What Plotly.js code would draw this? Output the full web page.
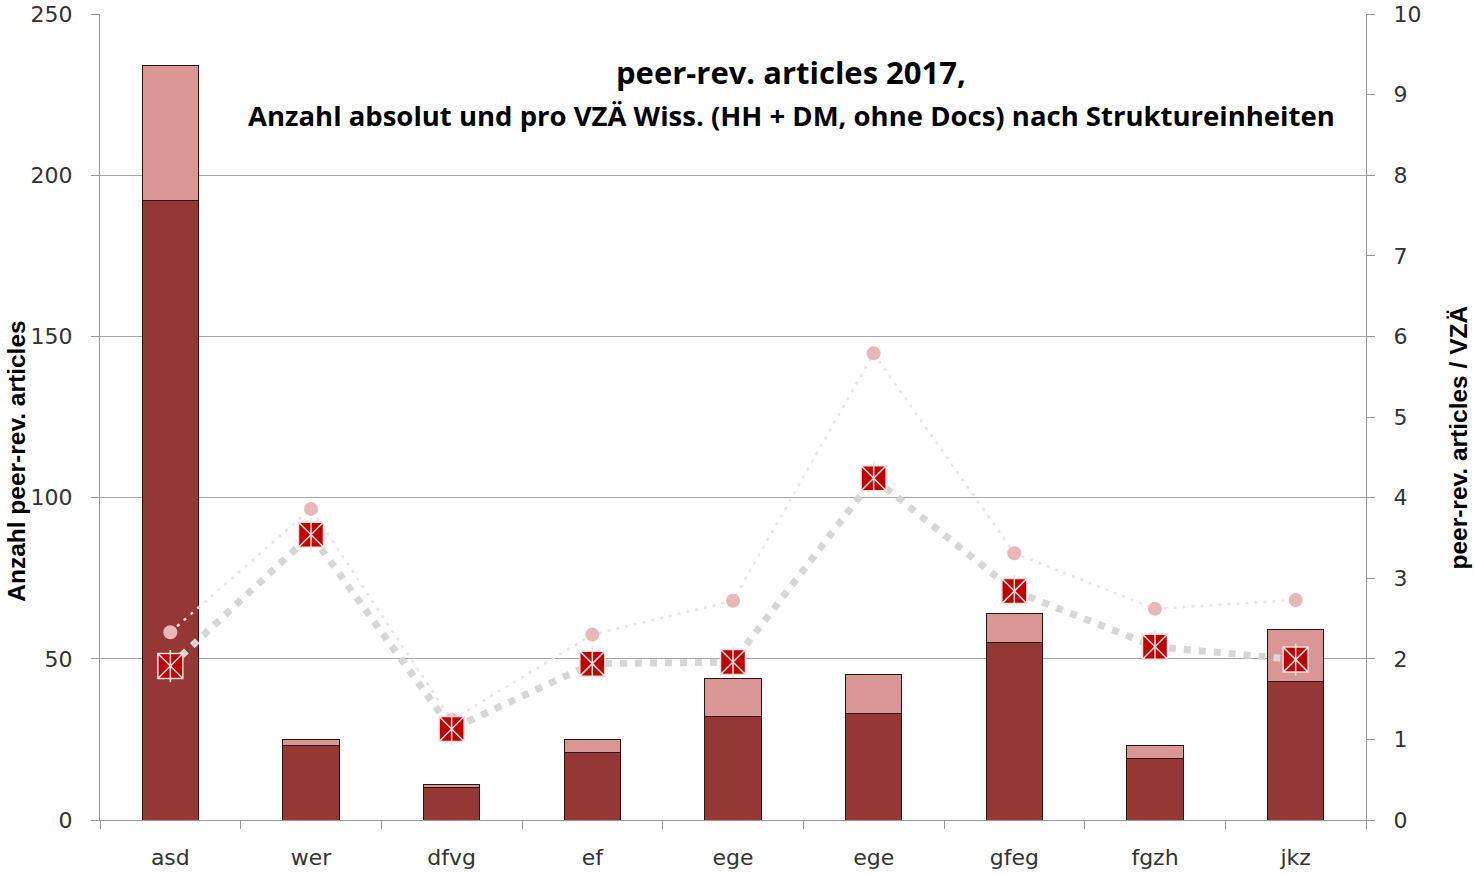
<!DOCTYPE html>
<html>
<head>
<meta charset="utf-8">
<script src="https://cdn.plot.ly/plotly-3.0.1.min.js"></script>
<style>html,body{margin:0;padding:0;background:#fff;}#chart{width:1474px;height:875px;}</style>
</head>
<body>
<div id="chart"></div>
<script>
// Data
const categories = ["asd", "wer", "dfvg", "ef", "ege", "ege", "gfeg", "fgzh", "jkz"];
const articlesBase = [192, 23, 10, 21, 32, 33, 55, 19, 43];      // dark segment
const articlesExtra = [42, 2, 1, 4, 12, 12, 9, 4, 16];          // light segment stacked on top
const perVZAe = [1.91, 3.54, 1.13, 1.94, 1.96, 4.24, 2.84, 2.15, 1.99];      // red squares
const perVZAeAlt = [2.33, 3.86, 1.24, 2.30, 2.72, 5.79, 3.31, 2.62, 2.73];   // pink circles
const titleLine1 = "peer-rev. articles 2017,";
const titleLine2 = "Anzahl absolut und pro VZÄ Wiss. (HH + DM, ohne Docs) nach Struktureinheiten";
const yTitle = "Anzahl peer-rev. articles";
const y2Title = "peer-rev. articles / VZÄ";

const idx = categories.map((_, i) => i);

const traces = [
  {type: "bar", x: idx, y: articlesBase, width: 0.4,
   marker: {color: "#953735", line: {color: "#2b1414", width: 1}}, hoverinfo: "y"},
  {type: "bar", x: idx, y: articlesExtra, width: 0.4,
   marker: {color: "#d99694", line: {color: "#2b1414", width: 1}}, hoverinfo: "y"},
  {type: "scatter", mode: "lines+markers", x: idx, y: perVZAeAlt, yaxis: "y2",
   line: {color: "#f0e0e0", width: 2.5, dash: "3px,6px"},
   marker: {color: "#e8b8b8", size: 14, symbol: "circle"}},
  {type: "scatter", mode: "lines", x: idx, y: perVZAe, yaxis: "y2",
   line: {color: "#d6d6d6", width: 7, dash: "7px,8px"}},
  {type: "scatter", mode: "markers", x: idx, y: perVZAe, yaxis: "y2",
   marker: {color: "#c00000", size: 25, symbol: "square-x", line: {color: "#f4dede", width: 1.5}}},
  {type: "scatter", mode: "markers", x: idx, y: perVZAe, yaxis: "y2",
   marker: {color: "#f4dede", size: 23, symbol: "line-ns-open", line: {color: "#f4dede", width: 1.5}}}
];

const tickFont = {family: "DejaVu Sans", size: 22, color: "#333"};

const layout = {
  width: 1474, height: 875,
  margin: {l: 100, r: 108, t: 14, b: 55},
  paper_bgcolor: "#fff", plot_bgcolor: "#fff",
  barmode: "stack",
  showlegend: false,
  xaxis: {
    range: [-0.5, 8.5], tickmode: "array", tickvals: idx, ticktext: categories,
    ticks: "", showgrid: false, zeroline: false,
    showline: true, linecolor: "#999", linewidth: 1,
    tickfont: tickFont, ticklabelstandoff: 18,
    minor: {tickmode: "linear", tick0: 0.5, dtick: 1, ticks: "outside", ticklen: 8, tickcolor: "#999", showgrid: false}
  },
  yaxis: {
    range: [0, 250], tickvals: [0, 50, 100, 150, 200, 250],
    ticks: "outside", ticklen: 8, tickcolor: "#999",
    showgrid: true, gridcolor: "#a6a6a6", gridwidth: 1,
    showline: true, linecolor: "#999", zeroline: false,
    tickfont: tickFont, ticklabelstandoff: 14
  },
  yaxis2: {
    overlaying: "y", side: "right", range: [0, 10], dtick: 1,
    ticks: "outside", ticklen: 8, tickcolor: "#999",
    showgrid: false, showline: true, linecolor: "#999", zeroline: false,
    tickfont: tickFont, ticklabelstandoff: 14
  },
  annotations: [
    {text: "<b>" + titleLine1 + "</b>", xref: "paper", yref: "paper", x: 0.546, y: 0.928,
     xanchor: "center", yanchor: "middle", showarrow: false,
     font: {family: "Open Sans", size: 31, color: "#000"}},
    {text: "<b>" + titleLine2 + "</b>", xref: "paper", yref: "paper", x: 0.546, y: 0.874,
     xanchor: "center", yanchor: "middle", showarrow: false,
     font: {family: "Open Sans", size: 27.5, color: "#000"}},
    {text: "<b>" + yTitle + "</b>", xref: "paper", yref: "paper", x: -0.066, y: 0.445,
     xanchor: "center", yanchor: "middle", showarrow: false, textangle: -90,
     font: {family: "Liberation Sans Narrow, Liberation Sans", size: 24.5, color: "#000"}},
    {text: "<b>" + y2Title + "</b>", xref: "paper", yref: "paper", x: 1.073, y: 0.475,
     xanchor: "center", yanchor: "middle", showarrow: false, textangle: -90,
     font: {family: "Liberation Sans Narrow, Liberation Sans", size: 24.5, color: "#000"}}
  ]
};

Plotly.newPlot("chart", traces, layout, {displayModeBar: false, staticPlot: true});
</script>
</body>
</html>
